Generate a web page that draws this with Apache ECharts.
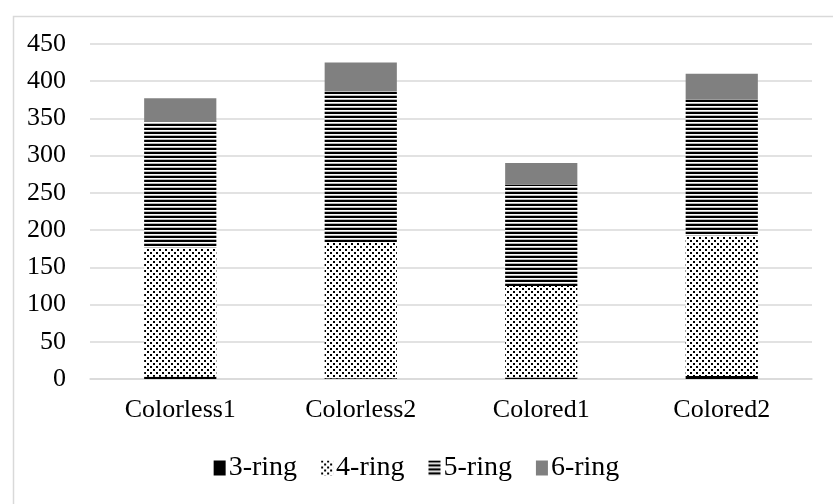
<!DOCTYPE html>
<html>
<head>
<meta charset="utf-8">
<script src="https://cdn.jsdelivr.net/npm/echarts@6/dist/echarts.min.js"></script>
<style>html,body{margin:0;padding:0;background:#fff;}#chart{width:833px;height:504px;}</style>
</head>
<body>
<div id="chart"></div>
<script>
const categories = ['Colorless1', 'Colorless2', 'Colored1', 'Colored2'];
const seriesNames = ['3-ring', '4-ring', '5-ring', '6-ring'];
const ring3 = [3, 1, 2, 4];
const ring4 = [173, 182, 123, 188];
const ring5 = [170, 204, 136, 183];
const ring6 = [31, 38, 29, 35];
const yTicks = [0, 50, 100, 150, 200, 250, 300, 350, 400, 450];

function makePattern(w, h, draw) {
  const c = document.createElement('canvas');
  c.width = w; c.height = h;
  const ctx = c.getContext('2d');
  ctx.fillStyle = '#fff';
  ctx.fillRect(0, 0, w, h);
  draw(ctx);
  return { image: c, repeat: 'repeat' };
}
const dotPattern = makePattern(6, 6, ctx => {
  ctx.fillStyle = '#000';
  ctx.fillRect(0, 0, 2, 2);
  ctx.fillRect(3, 3, 2, 2);
});
const stripePattern = makePattern(4, 4, ctx => {
  ctx.fillStyle = '#000';
  ctx.fillRect(0, 0, 4, 2);
  ctx.fillStyle = '#bbb';
  ctx.fillRect(0, 3, 4, 1);
});

const fills = ['#000000', dotPattern, stripePattern, '#808080'];
const values = [ring3, ring4, ring5, ring6];
const font = '"Liberation Serif", "Times New Roman", serif';

const chart = echarts.init(document.getElementById('chart'), null, { renderer: 'canvas' });
chart.setOption({
  animation: false,
  backgroundColor: '#fff',
  textStyle: { fontFamily: font },
  graphic: [{
    type: 'rect', left: 11, top: 14, z: -1,
    shape: { width: 900, height: 600 },
    style: { fill: 'none', stroke: '#d9d9d9', lineWidth: 1.5 }
  }],
  grid: { left: 90, right: 21, top: 44, bottom: 125, containLabel: false },
  legend: {
    data: seriesNames,
    bottom: 22,
    left: 'center',
    padding: [0, 0, 0, 30],
    itemWidth: 12,
    itemHeight: 15,
    itemGap: 24,
    icon: 'rect',
    textStyle: { fontFamily: font, fontSize: 28, color: '#000', padding: [0, 0, 0, -2] }
  },
  xAxis: {
    type: 'category',
    data: categories,
    axisLine: { lineStyle: { color: '#d9d9d9', width: 1.5 } },
    axisTick: { show: false },
    axisLabel: { fontFamily: font, fontSize: 26, color: '#000', margin: 18 }
  },
  yAxis: {
    type: 'value',
    min: 0, max: 450, interval: 50,
    axisLine: { show: false },
    axisTick: { show: false },
    splitLine: { lineStyle: { color: '#d9d9d9', width: 1.5 } },
    axisLabel: {
      fontFamily: font, fontSize: 26, color: '#000', margin: 24,
      formatter: v => (yTicks.indexOf(v) >= 0 ? String(v) : '')
    }
  },
  series: seriesNames.map((name, i) => ({
    name: name,
    type: 'bar',
    stack: 'total',
    barWidth: '40%',
    data: values[i],
    itemStyle: { color: fills[i] }
  }))
});
</script>
</body>
</html>
